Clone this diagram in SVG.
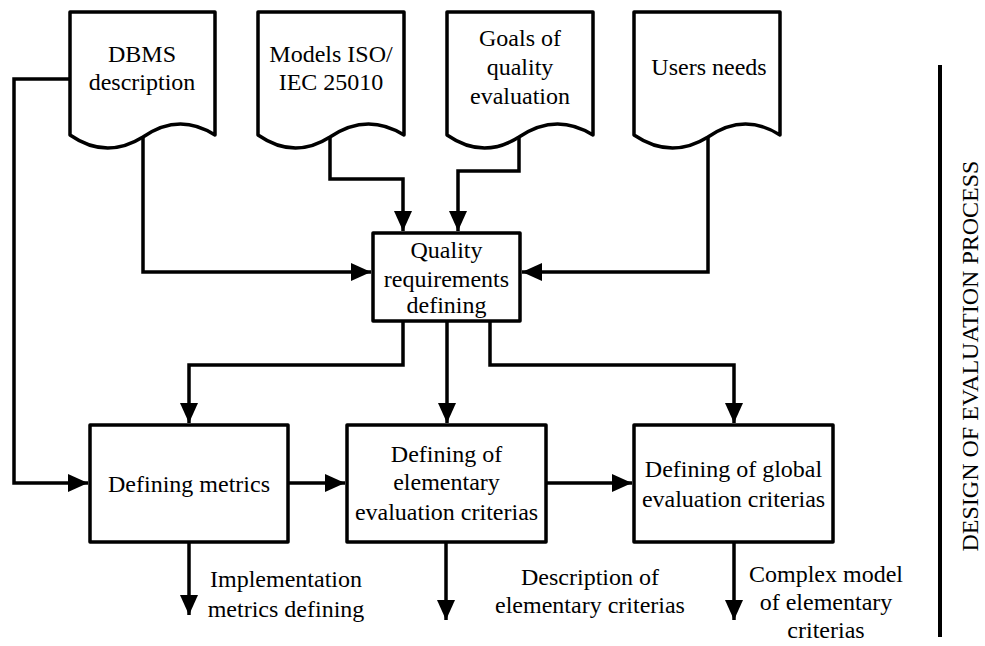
<svg xmlns="http://www.w3.org/2000/svg" width="985" height="646" viewBox="0 0 985 646">
<style>
.shape{fill:#fff;stroke:#000;stroke-width:3.5;stroke-linejoin:round}
.con{fill:none;stroke:#000;stroke-width:3.5;stroke-linejoin:miter}
.t{font-family:'Liberation Serif','Times New Roman',serif;font-size:24px;fill:#000;text-anchor:middle}
</style>
<defs>
<marker id="ah" markerUnits="userSpaceOnUse" markerWidth="20" markerHeight="18" refX="20" refY="9" orient="auto" viewBox="0 0 20 18">
<path d="M0,0 L20,9 L0,18 Z" fill="#000"/>
</marker>
</defs>
<rect width="985" height="646" fill="#fff"/>
<g id="connectors">
<path class="con" d="M143,138 V272 H371" marker-end="url(#ah)"/>
<path class="con" d="M330,138 V179 H403 V231" marker-end="url(#ah)"/>
<path class="con" d="M519,138 V171 H458 V231" marker-end="url(#ah)"/>
<path class="con" d="M708,138 V272 H522" marker-end="url(#ah)"/>
<path class="con" d="M70,79 H14 V483 H88" marker-end="url(#ah)"/>
<path class="con" d="M403,321 V365 H189 V423" marker-end="url(#ah)"/>
<path class="con" d="M447,321 V423" marker-end="url(#ah)"/>
<path class="con" d="M490,321 V365 H734 V423" marker-end="url(#ah)"/>
<path class="con" d="M288,483 H345" marker-end="url(#ah)"/>
<path class="con" d="M546,483 H632" marker-end="url(#ah)"/>
<path class="con" d="M189,542 V615" marker-end="url(#ah)"/>
<path class="con" d="M446,542 V620" marker-end="url(#ah)"/>
<path class="con" d="M734,542 V620" marker-end="url(#ah)"/>
</g>
<g class="t">
<g id="doc-dbms">
<path class="shape" d="M70,12 H215 V135 Q179,112 143,137 Q106,160 70,135 Z"/>
<text x="142" y="62">DBMS</text>
<text x="142" y="90">description</text>
</g>
<g id="doc-models">
<path class="shape" d="M258,12 H404 V135 Q367,112 330,137 Q294,160 258,135 Z"/>
<text x="331" y="62">Models ISO/</text>
<text x="331" y="90">IEC 25010</text>
</g>
<g id="doc-goals">
<path class="shape" d="M447,12 H593 V135 Q556,112 519,137 Q483,160 447,135 Z"/>
<text x="520" y="46">Goals of</text>
<text x="520" y="75">quality</text>
<text x="520" y="104">evaluation</text>
</g>
<g id="doc-users">
<path class="shape" d="M634,12 H780 V135 Q744,112 708,137 Q671,160 634,135 Z"/>
<text x="709" y="75">Users needs</text>
</g>
<g id="quality">
<rect class="shape" x="373" y="233" width="147" height="88"/>
<text x="446.5" y="258">Quality</text>
<text x="446.5" y="287">requirements</text>
<text x="446.5" y="313">defining</text>
</g>
<g id="metrics">
<rect class="shape" x="90" y="425" width="198" height="117"/>
<text x="189" y="492">Defining metrics</text>
</g>
<g id="elementary">
<rect class="shape" x="347" y="425" width="199" height="117"/>
<text x="446.5" y="462">Defining of</text>
<text x="446.5" y="490">elementary</text>
<text x="446.5" y="520">evaluation criterias</text>
</g>
<g id="global">
<rect class="shape" x="634" y="425" width="199" height="117"/>
<text x="733.5" y="477">Defining of global</text>
<text x="733.5" y="507">evaluation criterias</text>
</g>
<g id="labels">
<text x="286" y="587">Implementation</text>
<text x="286" y="617">metrics defining</text>
<text x="590" y="585">Description of</text>
<text x="590" y="613">elementary criterias</text>
<text x="826" y="582">Complex model</text>
<text x="826" y="610">of elementary</text>
<text x="826" y="638">criterias</text>
</g>
<g id="side">
<line x1="940" y1="65" x2="940" y2="637" stroke="#000" stroke-width="4"/>
<text transform="translate(978,356) rotate(-90)">DESIGN OF EVALUATION PROCESS</text>
</g>
</g>
</svg>
